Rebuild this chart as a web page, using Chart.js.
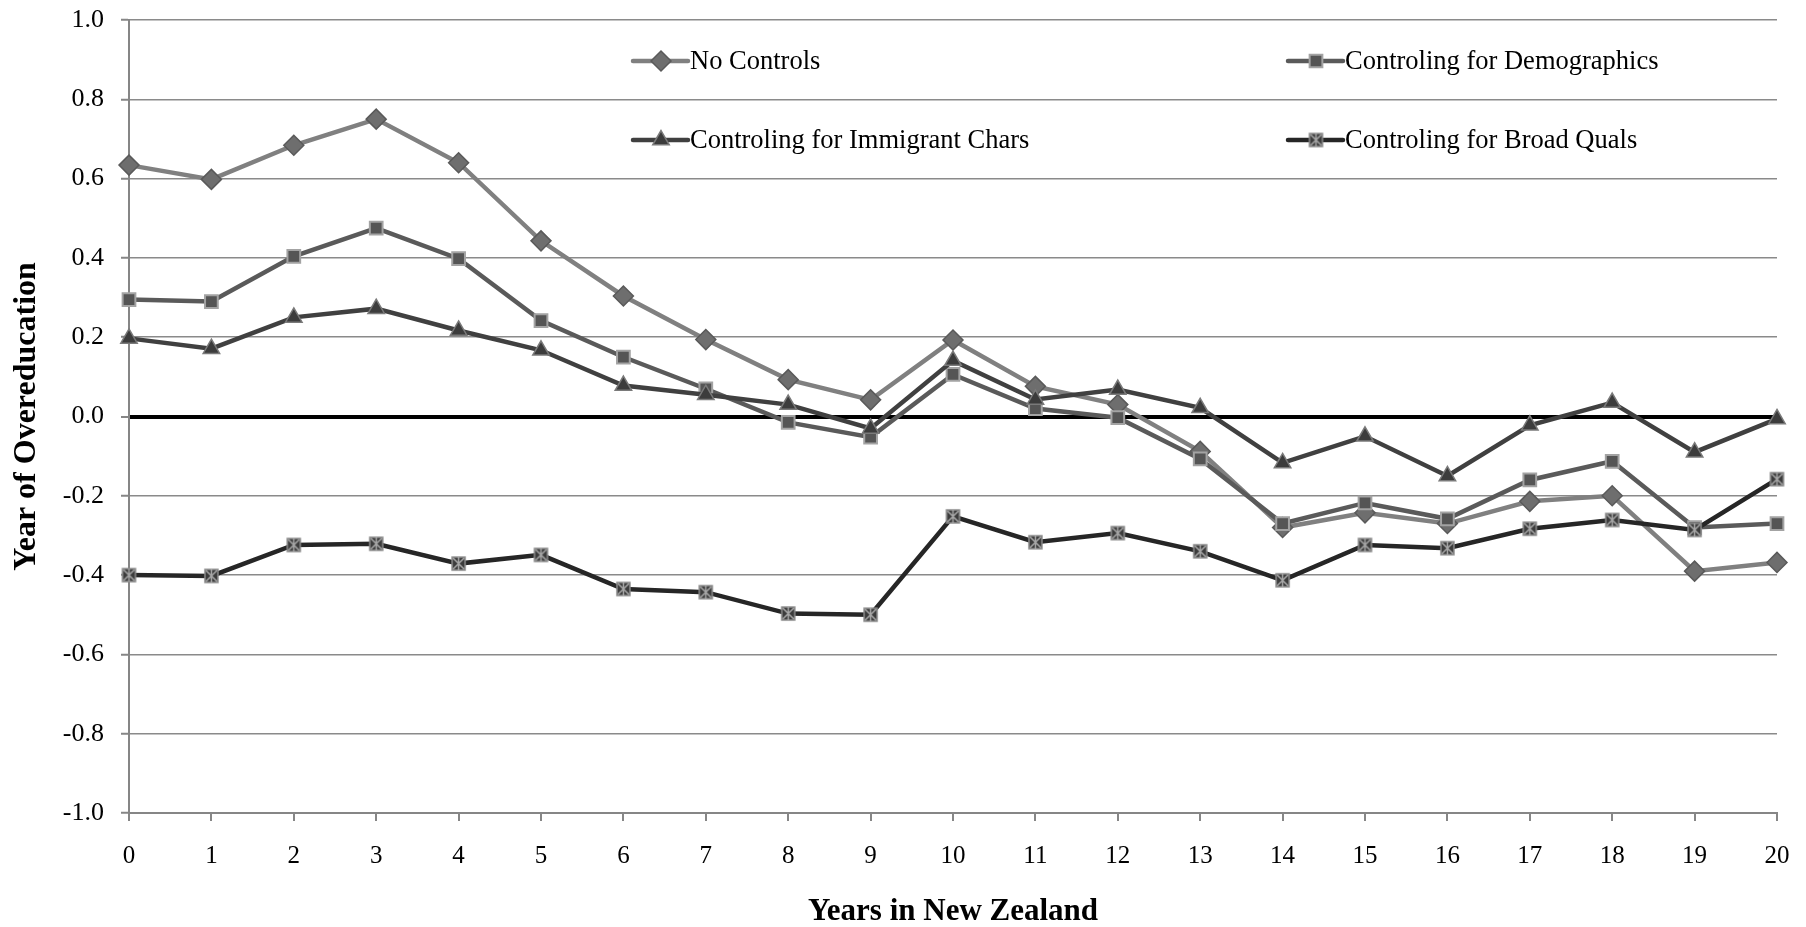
<!DOCTYPE html>
<html>
<head>
<meta charset="utf-8">
<script src="https://cdn.jsdelivr.net/npm/chart.js@4.4.1/dist/chart.umd.min.js"></script>
<style>
  body { margin: 0; background: #fff; }
  canvas { display: block; }
</style>
</head>
<body>
<canvas id="chart" width="1806" height="927"></canvas>
<script>
// years since arrival
let years = ['0','1','2','3','4','5','6','7','8','9','10','11','12','13','14','15','16','17','18','19','20'];
let yTicks = [-1.0, -0.8, -0.6, -0.4, -0.2, 0.0, 0.2, 0.4, 0.6, 0.8, 1.0];

let seriesNames = [
    'No Controls',
    'Controling for Demographics',
    'Controling for Immigrant Chars',
    'Controling for Broad Quals',
];

let noControls   = [0.634, 0.598, 0.684, 0.750, 0.640, 0.443, 0.304, 0.194, 0.093, 0.042, 0.193, 0.076, 0.030, -0.088, -0.280, -0.243, -0.270, -0.214, -0.200, -0.390, -0.368];
let demographics = [0.295, 0.290, 0.404, 0.475, 0.398, 0.242, 0.150, 0.070, -0.015, -0.052, 0.106, 0.020, -0.003, -0.107, -0.270, -0.218, -0.258, -0.160, -0.113, -0.280, -0.270];
let immigrant    = [0.197, 0.171, 0.250, 0.272, 0.217, 0.167, 0.078, 0.055, 0.030, -0.030, 0.141, 0.043, 0.068, 0.022, -0.117, -0.050, -0.150, -0.022, 0.035, -0.090, -0.006];
let broadQuals   = [-0.400, -0.402, -0.324, -0.321, -0.371, -0.349, -0.435, -0.443, -0.497, -0.500, -0.252, -0.317, -0.294, -0.340, -0.413, -0.324, -0.332, -0.283, -0.261, -0.286, -0.158];

// square with a star on it, like the excel marker
function starBox() {
    const c = document.createElement('canvas');
    c.width = 17;
    c.height = 17;
    const g = c.getContext('2d');
    g.fillStyle = '#3c3c3c';
    g.fillRect(2, 2, 13, 13);
    g.strokeStyle = '#8c8c8c';
    g.lineWidth = 1.5;
    g.strokeRect(2, 2, 13, 13);
    g.strokeStyle = '#a8a8a8';
    g.beginPath();
    g.moveTo(3, 3); g.lineTo(14, 14);
    g.moveTo(14, 3); g.lineTo(3, 14);
    g.moveTo(8.5, 2); g.lineTo(8.5, 15);
    g.stroke();
    return c;
}

const legendSpots = [
    {x: 633, y: 61},
    {x: 1288, y: 61},
    {x: 633, y: 140},
    {x: 1288, y: 140},
];

const boxLegend = {
    id: 'boxLegend',
    afterDraw(chart) {
        const ctx = chart.ctx;
        ctx.save();
        chart.data.datasets.forEach((ds, i) => {
            const p = legendSpots[i];
            ctx.strokeStyle = ds.borderColor;
            ctx.lineWidth = ds.borderWidth;
            ctx.lineCap = 'round';
            ctx.beginPath();
            ctx.moveTo(p.x, p.y);
            ctx.lineTo(p.x + 55, p.y);
            ctx.stroke();
            ctx.fillStyle = ds.pointBackgroundColor;
            ctx.strokeStyle = ds.pointBorderColor;
            ctx.lineWidth = ds.pointBorderWidth;
            Chart.helpers.drawPoint(ctx, {pointStyle: ds.pointStyle, radius: ds.pointRadius, rotation: 0, borderWidth: ds.pointBorderWidth}, p.x + 28, p.y);
            ctx.fillStyle = '#000';
            ctx.font = '26.5px "Liberation Serif"';
            ctx.textBaseline = 'middle';
            ctx.textAlign = 'left';
            ctx.fillText(ds.label, p.x + 57, p.y + 1);
        });
        ctx.restore();
    }
};

const ctx = document.getElementById('chart');

new Chart(ctx, {
    type: 'line',
    data: {
        labels: years,
        datasets: [{
            label: seriesNames[0],
            data: noControls,
            borderColor: '#808080',
            borderWidth: 4.5,
            pointStyle: 'rectRot',
            pointRadius: 10,
            pointBackgroundColor: '#6e6e6e',
            pointBorderColor: '#5a5a5a',
            pointBorderWidth: 1.5,
            order: 3,
        },
        {
            label: seriesNames[1],
            data: demographics,
            borderColor: '#5a5a5a',
            borderWidth: 4.5,
            pointStyle: 'rect',
            pointRadius: 9,
            pointBackgroundColor: '#555555',
            pointBorderColor: '#a3a3a3',
            pointBorderWidth: 2,
            order: 2,
        },
        {
            label: seriesNames[2],
            data: immigrant,
            borderColor: '#404040',
            borderWidth: 4.5,
            pointStyle: 'triangle',
            pointRadius: 9.5,
            pointBackgroundColor: '#3c3c3c',
            pointBorderColor: '#7a7a7a',
            pointBorderWidth: 1.5,
            order: 1,
        },
        {
            label: seriesNames[3],
            data: broadQuals,
            borderColor: '#262626',
            borderWidth: 4.5,
            pointStyle: starBox(),
            pointRadius: 8,
            pointBackgroundColor: '#3c3c3c',
            pointBorderColor: '#8c8c8c',
            pointBorderWidth: 1.5,
            order: 0,
        }]
    },
    options: {
        responsive: false,
        animation: false,
        layout: {
            padding: {left: 0, right: 29, top: 20, bottom: 0}
        },
        plugins: {
            legend: {display: false},
            tooltip: {enabled: false},
        },
        scales: {
            x: {
                offset: false,
                grid: {
                    drawOnChartArea: false,
                    drawTicks: true,
                    tickLength: 8,
                    color: '#868686',
                    lineWidth: 2,
                },
                border: {color: '#868686', width: 2},
                ticks: {
                    color: '#000',
                    font: {family: 'Liberation Serif', size: 25},
                    padding: 20,
                    maxRotation: 0,
                    autoSkip: false,
                },
                title: {
                    display: true,
                    text: 'Years in New Zealand',
                    color: '#000',
                    font: {family: 'Liberation Serif', size: 31, weight: 'bold'},
                    padding: {top: 0, bottom: -4},
                },
                afterFit(scale) {
                    scale.height = 114;
                    scale.paddingLeft = 0;
                    scale.paddingRight = 0;
                },
            },
            y: {
                min: -1,
                max: 1,
                afterBuildTicks(scale) {
                    scale.ticks = yTicks.map(v => ({value: v}));
                },
                grid: {
                    color: c => (c.tick && c.tick.value === 0) ? '#000' : '#8a8a8a',
                    lineWidth: c => (c.tick && c.tick.value === 0) ? 4 : 1.5,
                    tickLength: 8,
                    tickColor: '#868686',
                    tickWidth: 2,
                },
                border: {color: '#868686', width: 2},
                ticks: {
                    color: '#000',
                    font: {family: 'Liberation Serif', size: 26},
                    padding: 17,
                    callback: v => v.toFixed(1),
                },
                title: {
                    display: true,
                    text: 'Year of Overeducation',
                    color: '#000',
                    font: {family: 'Liberation Serif', size: 32, weight: 'bold'},
                    padding: {top: 8, bottom: 0},
                },
                afterFit(scale) {
                    scale.width = 129;
                    scale.paddingTop = 0;
                    scale.paddingBottom = 0;
                },
            }
        }
    },
    plugins: [boxLegend]
});
</script>
</body>
</html>
